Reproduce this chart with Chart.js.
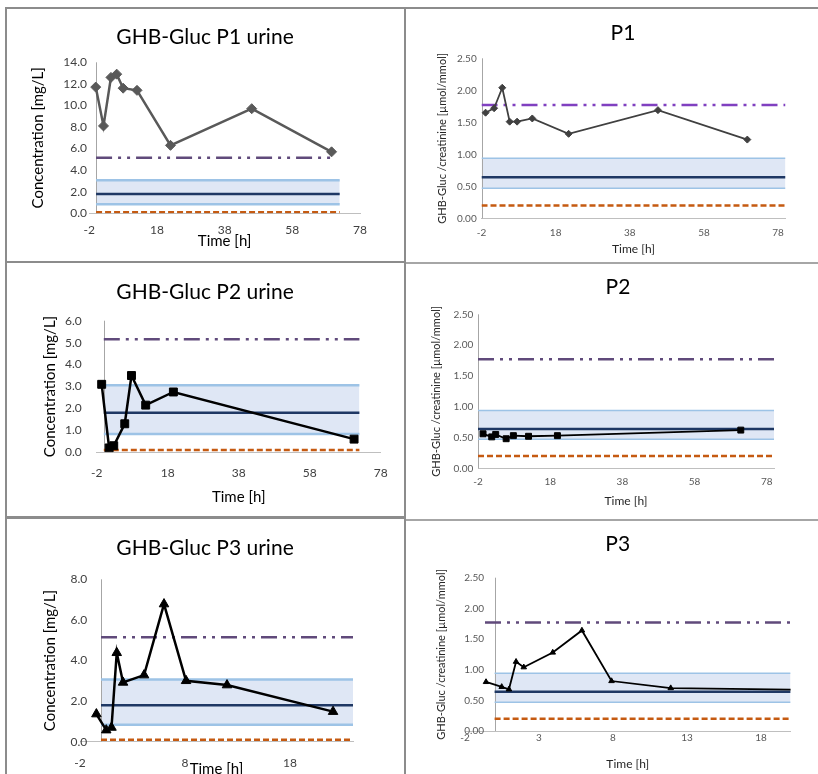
<!DOCTYPE html>
<html><head><meta charset="utf-8">
<script src="https://cdn.jsdelivr.net/npm/chart.js@4.4.1/dist/chart.umd.min.js"></script>
<style>
html,body{margin:0;padding:0;background:#fff;overflow:hidden;width:818px;height:774px;position:relative;}
canvas{position:absolute;}
.ln{position:absolute;background:#8c8c8c;}
.lt{position:absolute;background:#a6a6a6;}
</style></head><body>
<canvas id="c1" width="398" height="252" style="left:6px;top:9px"></canvas>
<canvas id="c2" width="398" height="253" style="left:6px;top:263px"></canvas>
<canvas id="c3" width="398" height="264" style="left:6px;top:520px"></canvas>
<canvas id="c4" width="411" height="252" style="left:407px;top:9px"></canvas>
<canvas id="c5" width="411" height="254" style="left:407px;top:264px"></canvas>
<canvas id="c6" width="411" height="253" style="left:407px;top:521px"></canvas>
<div class="ln" style="left:5px;top:7px;width:813px;height:2px"></div>
<div class="ln" style="left:5px;top:7px;width:2px;height:767px"></div>
<div class="ln" style="left:404px;top:7px;width:2px;height:767px"></div>
<div class="ln" style="left:5px;top:261px;width:401px;height:2px"></div>
<div class="lt" style="left:406px;top:262px;width:412px;height:2px"></div>
<div class="ln" style="left:5px;top:516px;width:401px;height:3px"></div>
<div class="lt" style="left:406px;top:519px;width:412px;height:2px"></div>
<script>
// ---------- data ----------
const p1UrineTime = [-0.1, 2.2, 4.4, 6.1, 8.0, 12.1, 22.0, 46.0, 69.6];
const p1UrineConc = [11.7, 8.1, 12.6, 12.9, 11.6, 11.4, 6.3, 9.7, 5.7];
const p2UrineTime = [-0.6, 1.5, 2.8, 5.9, 7.8, 11.8, 19.6, 70.5];
const p2UrineConc = [3.1, 0.2, 0.3, 1.3, 3.5, 2.15, 2.75, 0.6];
const p3UrineTime = [-0.44, 0.5, 1.0, 1.5, 2.1, 4.1, 6.0, 8.1, 12.0, 22.1];
const p3UrineConc = [1.36, 0.57, 0.7, 4.38, 2.92, 3.28, 6.78, 3.0, 2.79, 1.48];

const p1RatioTime = [-0.9, 1.4, 3.6, 5.6, 7.6, 11.7, 21.5, 45.6, 69.7];
const p1Ratio = [1.65, 1.72, 2.04, 1.51, 1.51, 1.56, 1.32, 1.69, 1.23];
const p2RatioTime = [-0.6, 1.8, 2.9, 5.8, 7.8, 12.0, 20.0, 70.8];
const p2Ratio = [0.56, 0.51, 0.55, 0.48, 0.53, 0.52, 0.53, 0.62];
const p3RatioTime = [-0.58, 0.48, 0.97, 1.45, 1.97, 3.93, 5.9, 7.9, 11.9, 22.0];
const p3Ratio = [0.80, 0.72, 0.68, 1.13, 1.04, 1.28, 1.64, 0.815, 0.70, 0.67];

// reference levels: [cutoff, band upper, mean, band lower, LOD]
const urineRefLevels = [5.15, 3.06, 1.8, 0.83, 0.1];
const ratioRefLevels = [1.77, 0.94, 0.64, 0.47, 0.2];

// x extents of reference lines [cutoff line span, other lines span]
const p1UrineCutoffSpan = [0, 70], p1UrineBandSpan = [0, 72];
const p2UrineCutoffSpan = [0, 72], p2UrineBandSpan = [0, 72];
const p3UrineCutoffSpan = [0, 24], p3UrineBandSpan = [0, 24];
const p1RatioCutoffSpan = [-2, 80], p1RatioBandSpan = [-2, 80];
const p2RatioCutoffSpan = [-2, 80], p2RatioBandSpan = [-2, 80];
const p3RatioCutoffSpan = [-0.65, 20], p3RatioBandSpan = [0, 20];

// axis ticks
const xTicksLong = [-2, 18, 38, 58, 78];
const xTicksP3Urine = [-2, 8, 18];
const xTicksP3Ratio = [-2, 3, 8, 13, 18];
const yTicksP1Urine = [0, 2, 4, 6, 8, 10, 12, 14];
const yTicksP2Urine = [0, 1, 2, 3, 4, 5, 6];
const yTicksP3Urine = [0, 2, 4, 6, 8];
const yTicksRatio = [0, 0.5, 1.0, 1.5, 2.0, 2.5];

// ---------- drawing ----------
Chart.defaults.font.family = 'Lato, "Open Sans", sans-serif';
Chart.defaults.animation = false;

const axisLinePlugin = {
  id: 'axisLine',
  beforeDatasetsDraw(chart, args, opts) {
    const x = Math.round(chart.scales.x.getPixelForValue(opts.at)) + 0.5;
    const {top, bottom} = chart.chartArea;
    const ctx = chart.ctx;
    ctx.save();
    ctx.strokeStyle = opts.color || '#a6a6a6';
    ctx.lineWidth = 1;
    ctx.beginPath(); ctx.moveTo(x, top); ctx.lineTo(x, bottom); ctx.stroke();
    ctx.restore();
  }
};
Chart.register(axisLinePlugin);

const pts = (xs, ys) => xs.map((x, i) => ({x: x, y: ys[i]}));
const hline = (v, span) => [{x: span[0], y: v}, {x: span[1], y: v}];

function panel(id, g) {
  const L = g.levels;
  const datasets = [
    {data: pts(g.time, g.vals), borderColor: g.color, backgroundColor: g.color,
     pointBorderColor: g.color, borderWidth: g.lw, pointStyle: g.marker, pointRadius: g.mr,
     pointBorderWidth: 1, order: 0},
    {data: hline(L[0], g.cutSpan), borderColor: g.purple, borderWidth: g.refW,
     borderDash: g.purpleDash, pointRadius: 0, order: 1},
    {data: hline(L[2], g.bandSpan), borderColor: '#1f3864', borderWidth: g.refW, pointRadius: 0, order: 2},
    {data: hline(L[1], g.bandSpan), borderColor: '#9dc3e6', borderWidth: g.bandW, pointRadius: 0,
     fill: '+1', backgroundColor: 'rgba(196,212,236,0.55)', order: 3},
    {data: hline(L[3], g.bandSpan), borderColor: '#9dc3e6', borderWidth: g.bandW, pointRadius: 0, order: 4},
    {data: hline(L[4], g.bandSpan), borderColor: '#c55a11', borderWidth: g.refW,
     borderDash: g.orangeDash, pointRadius: 0, order: 5}
  ];
  datasets.forEach(d => { d.xAxisID = 'x'; d.yAxisID = 'y'; });
  const tickCol = g.tickColor;
  const padL = g.padLeft || 0;
  new Chart(document.getElementById(id), {
    type: 'line',
    data: {datasets},
    options: {
      responsive: false, devicePixelRatio: 1, animation: false,
      layout: {padding: {left: padL, top: 0, bottom: 0, right: 0}},
      plugins: {
        legend: {display: false}, tooltip: {enabled: false},
        filler: {drawTime: 'beforeDatasetsDraw'},
        axisLine: {at: g.axisAt, color: '#a6a6a6'},
        title: {display: true, text: g.title, color: '#000',
                font: {size: 21, weight: 'normal'}, padding: {top: g.titleTop, bottom: g.titleBottom}}
      },
      scales: {
        x: {type: 'linear', min: g.xmin, max: g.xmax,
            afterBuildTicks: s => { s.ticks = g.xTicks.map(v => ({value: v})); },
            afterFit: s => { s.height = g.hx; },
            grid: {display: false, drawTicks: false},
            border: {display: true, color: '#bfbfbf', width: 1},
            ticks: {color: tickCol, font: {size: g.tickSize}, padding: g.xTickPad, maxRotation: 0, autoSkip: false,
                    callback: v => String(v)},
            title: {display: true, text: 'Time [h]', color: g.titleColor,
                    font: {size: g.xTitleSize}, padding: {top: 0, bottom: g.xTitlePad}}},
        y: {type: 'linear', min: g.ymin, max: g.ymax, position: 'left',
            afterBuildTicks: s => { s.ticks = g.yTicks.map(v => ({value: v})); },
            afterFit: s => { s.width = g.wy - padL; s._computeLabelArea = () => undefined; },
            grid: {display: false, drawTicks: false},
            border: {display: false},
            ticks: {color: tickCol, font: {size: g.tickSize}, padding: g.yTickPad,
                    callback: v => v.toFixed(g.dec)},
            title: {display: true, text: g.yTitle, color: g.titleColor,
                    font: {size: g.yTitleSize}, padding: {top: g.yTitlePad - padL, bottom: 0}}},
        yR: {type: 'linear', axis: 'y', position: 'right', display: true,
             afterFit: s => { s.width = g.padRight; },
             grid: {display: false, drawTicks: false}, border: {display: false},
             ticks: {display: false}, title: {display: false}}
      }
    }
  });
}

const leftCommon = {levels: urineRefLevels, xmin: -2, tickSize: 12, tickColor: '#404040', titleColor: '#000',
  xTitleSize: 15, yTitleSize: 15, yTitle: 'Concentration [mg/L]', dec: 1, axisAt: 0,
  refW: 2.5, bandW: 2.5, purple: '#604a7b', purpleDash: [16, 6, 3, 6, 3, 6], orangeDash: [6, 3]};
const rightCommon = {levels: ratioRefLevels, xmin: -2, ymin: 0, ymax: 2.5, yTicks: yTicksRatio,
  tickSize: 10, tickColor: '#595959', titleColor: '#262626',
  xTitleSize: 12, yTitleSize: 11, yTitle: 'GHB-Gluc /creatinine [\u00b5mol/mmol]', dec: 2,
  refW: 2.5, bandW: 1.5, purple: '#604a7b', purpleDash: [16, 6, 3, 6, 3, 6], orangeDash: [6, 3]};

panel('c1', Object.assign({}, leftCommon, {title: 'GHB-Gluc P1 urine', time: p1UrineTime, vals: p1UrineConc,
  color: '#595959', lw: 2.5, marker: 'rectRot', mr: 5, cutSpan: p1UrineCutoffSpan, bandSpan: p1UrineBandSpan,
  xmax: 78, ymin: 0, ymax: 14, xTicks: xTicksLong, yTicks: yTicksP1Urine,
  padRight: 44, wy: 83.3, hx: 47.7, titleTop: 15.4, titleBottom: 12.7,
  xTickPad: 9.5, xTitlePad: 11, yTickPad: 2.3, yTitlePad: 23}));

panel('c2', Object.assign({}, leftCommon, {title: 'GHB-Gluc P2 urine', time: p2UrineTime, vals: p2UrineConc,
  color: '#000', lw: 2.5, marker: 'rect', mr: 5.6, cutSpan: p2UrineCutoffSpan, bandSpan: p2UrineBandSpan,
  xmax: 78, ymin: 0, ymax: 6, xTicks: xTicksLong, yTicks: yTicksP2Urine,
  padRight: 23.3, wy: 90.7, hx: 63.7, titleTop: 16.4, titleBottom: 16.1,
  xTickPad: 13.5, xTitlePad: 10, yTickPad: 15, yTitlePad: 35}));

panel('c3', Object.assign({}, leftCommon, {title: 'GHB-Gluc P3 urine', time: p3UrineTime, vals: p3UrineConc,
  color: '#000', lw: 2.5, marker: 'triangle', mr: 5.5, cutSpan: p3UrineCutoffSpan, bandSpan: p3UrineBandSpan,
  xmax: 24, ymin: 0, ymax: 8, xTicks: xTicksP3Urine, yTicks: yTicksP3Urine,
  padRight: 51, wy: 74, hx: 42.3, titleTop: 15.4, titleBottom: 18.7,
  xTickPad: 14.4, xTitlePad: 6, yTickPad: -7.3, yTitlePad: 35}));

panel('c4', Object.assign({}, rightCommon, {title: 'P1', time: p1RatioTime, vals: p1Ratio,
  color: '#404040', lw: 1.8, marker: 'rectRot', mr: 3.5, cutSpan: p1RatioCutoffSpan, bandSpan: p1RatioBandSpan,
  purple: '#8040c0', axisAt: -2, padLeft: 21,
  xmax: 80, xTicks: xTicksLong,
  padRight: 32.5, wy: 74.5, hx: 42.7, titleTop: 11.4, titleBottom: 12.7,
  xTickPad: 8.7, xTitlePad: 5.1, yTickPad: 4.8, yTitlePad: 29.1}));

panel('c5', Object.assign({}, rightCommon, {title: 'P2', time: p2RatioTime, vals: p2Ratio,
  color: '#000', lw: 1.8, marker: 'rect', mr: 4.2, cutSpan: p2RatioCutoffSpan, bandSpan: p2RatioBandSpan,
  axisAt: -2, padLeft: 11,
  xmax: 80, xTicks: xTicksLong,
  padRight: 44, wy: 71, hx: 49.7, titleTop: 10.4, titleBottom: 14.7,
  xTickPad: 7.7, xTitlePad: 10.1, yTickPad: 4.7, yTitlePad: 23.1}));

panel('c6', Object.assign({}, rightCommon, {title: 'P3', time: p3RatioTime, vals: p3Ratio,
  color: '#000', lw: 1.8, marker: 'triangle', mr: 3.2, cutSpan: p3RatioCutoffSpan, bandSpan: p3RatioBandSpan,
  axisAt: 0, padLeft: 10.4,
  xmax: 20, xTicks: xTicksP3Ratio,
  padRight: 27.4, wy: 58, hx: 43, titleTop: 10.7, titleBottom: 20.8,
  xTickPad: 0.7, xTitlePad: 3.1, yTickPad: -19, yTitlePad: 27.4}));
</script>
</body></html>
